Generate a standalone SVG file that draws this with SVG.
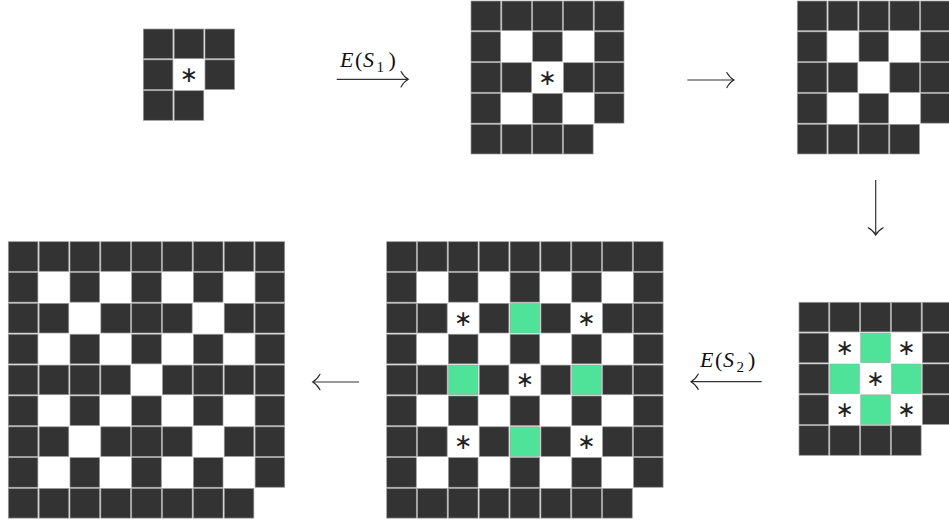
<svg xmlns="http://www.w3.org/2000/svg" width="949" height="523" viewBox="0 0 949 523">
<style>
.d{fill:#333333;stroke:#9a9a9a;stroke-width:0.7}
.g{fill:#4fe39a;stroke:#9a9a9a;stroke-width:0.5}
.s{font-family:"DejaVu Sans",sans-serif;font-size:22px;fill:#222;text-anchor:middle;dominant-baseline:central}
.lbl{font-family:"Liberation Serif","Times New Roman",serif;font-size:22px;fill:#111}
.ln{stroke:#333;stroke-width:1.2;fill:none}
.hd{stroke:#222;stroke-width:1.1;fill:none;stroke-linecap:round}
</style>
<defs>
<rect id="c" width="29.6" height="29.6"/>
<g id="full9"><use href="#c" x="0"/><use href="#c" x="30.85"/><use href="#c" x="61.7"/><use href="#c" x="92.55"/><use href="#c" x="123.4"/><use href="#c" x="154.25"/><use href="#c" x="185.1"/><use href="#c" x="215.95"/><use href="#c" x="246.8"/></g>
<g id="odd9"><use href="#c" x="0"/><use href="#c" x="61.7"/><use href="#c" x="123.4"/><use href="#c" x="185.1"/><use href="#c" x="246.8"/></g>
<g id="last9"><use href="#c" x="0"/><use href="#c" x="30.85"/><use href="#c" x="61.7"/><use href="#c" x="92.55"/><use href="#c" x="123.4"/><use href="#c" x="154.25"/><use href="#c" x="185.1"/><use href="#c" x="215.95"/></g>
<g id="mid9"><use href="#c" x="0"/><use href="#c" x="30.85"/><use href="#c" x="92.55"/><use href="#c" x="154.25"/><use href="#c" x="215.95"/><use href="#c" x="246.8"/></g>
<g id="full5"><use href="#c" x="0"/><use href="#c" x="30.85"/><use href="#c" x="61.7"/><use href="#c" x="92.55"/><use href="#c" x="123.4"/></g>
<g id="odd5"><use href="#c" x="0"/><use href="#c" x="61.7"/><use href="#c" x="123.4"/></g>
<g id="mid5"><use href="#c" x="0"/><use href="#c" x="30.85"/><use href="#c" x="92.55"/><use href="#c" x="123.4"/></g>
<g id="last5"><use href="#c" x="0"/><use href="#c" x="30.85"/><use href="#c" x="61.7"/><use href="#c" x="92.55"/></g>
</defs>

<g id="grid1" transform="translate(143.3,29)">
<g class="d"><use href="#c" x="0" y="0"/><use href="#c" x="30.85" y="0"/><use href="#c" x="61.7" y="0"/><use href="#c" x="0" y="30.85"/><use href="#c" x="61.7" y="30.85"/><use href="#c" x="0" y="61.7"/><use href="#c" x="30.85" y="61.7"/></g>
<text class="s" x="45.65" y="45.65">∗</text>
</g>

<g id="grid2" transform="translate(471,1)">
<g class="d"><use href="#full5" y="0"/><use href="#odd5" y="30.85"/><use href="#mid5" y="61.7"/><use href="#odd5" y="92.55"/><use href="#last5" y="123.4"/></g>
<text class="s" x="76.5" y="76.5">∗</text>
</g>

<g id="grid3" transform="translate(797.3,1)">
<g class="d"><use href="#full5" y="0"/><use href="#odd5" y="30.85"/><use href="#mid5" y="61.7"/><use href="#odd5" y="92.55"/><use href="#last5" y="123.4"/></g>
</g>

<g id="grid4" transform="translate(799,302.3)">
<g class="d"><use href="#full5" y="0"/><use href="#c" x="0" y="30.85"/><use href="#c" x="123.4" y="30.85"/><use href="#c" x="0" y="61.7"/><use href="#c" x="123.4" y="61.7"/><use href="#c" x="0" y="92.55"/><use href="#c" x="123.4" y="92.55"/><use href="#last5" y="123.4"/></g>
<g class="g"><use href="#c" x="61.7" y="30.85"/><use href="#c" x="30.85" y="61.7"/><use href="#c" x="92.55" y="61.7"/><use href="#c" x="61.7" y="92.55"/></g>
<text class="s" x="45.65" y="45.65">∗</text><text class="s" x="107.35" y="45.65">∗</text><text class="s" x="76.5" y="76.5">∗</text><text class="s" x="45.65" y="107.35">∗</text><text class="s" x="107.35" y="107.35">∗</text>
</g>

<g id="grid5" transform="translate(386.7,241.7)">
<g class="d"><use href="#full9" y="0"/><use href="#odd9" y="30.85"/><use href="#mid9" y="61.7"/><use href="#odd9" y="92.55"/><use href="#mid9" y="123.4"/><use href="#odd9" y="154.25"/><use href="#mid9" y="185.1"/><use href="#odd9" y="215.95"/><use href="#last9" y="246.8"/></g>
<g class="g"><use href="#c" x="123.4" y="61.7"/><use href="#c" x="61.7" y="123.4"/><use href="#c" x="185.1" y="123.4"/><use href="#c" x="123.4" y="185.1"/></g>
<text class="s" x="76.5" y="76.5">∗</text><text class="s" x="199.9" y="76.5">∗</text><text class="s" x="138.2" y="138.2">∗</text><text class="s" x="76.5" y="199.9">∗</text><text class="s" x="199.9" y="199.9">∗</text>
</g>

<g id="grid6" transform="translate(8.3,241.7)">
<g class="d"><use href="#full9" y="0"/><use href="#odd9" y="30.85"/><use href="#mid9" y="61.7"/><use href="#c" x="123.4" y="61.7"/><use href="#odd9" y="92.55"/><use href="#mid9" y="123.4"/><use href="#c" x="185.1" y="123.4"/><use href="#c" x="61.7" y="123.4"/><use href="#odd9" y="154.25"/><use href="#mid9" y="185.1"/><use href="#c" x="123.4" y="185.1"/><use href="#odd9" y="215.95"/><use href="#last9" y="246.8"/></g>
</g>

<g id="connectors">
<line class="ln" x1="336.7" y1="79.3" x2="407.5" y2="79.3"/>
<path class="hd" d="M401,71.5 Q404,77 408.3,79.3 Q404,81.6 401,87"/>
<text class="lbl"><tspan x="340" y="66.7" font-style="italic">E</tspan><tspan x="355" y="66.7">(</tspan><tspan x="363" y="66.7" font-style="italic">S</tspan><tspan x="376.5" y="71.5" font-size="15">1</tspan><tspan x="388.5" y="66.7">)</tspan></text>

<line class="ln" x1="687.3" y1="80" x2="733.2" y2="80"/>
<path class="hd" d="M726.8,72.5 Q729.8,77.8 734,80 Q729.8,82.2 726.8,87.7"/>

<line class="ln" x1="875.7" y1="180" x2="875.7" y2="234.2"/>
<path class="hd" d="M868.2,227.8 Q873.5,230.8 875.7,235 Q877.9,230.8 883.2,227.8"/>

<line class="ln" x1="691.8" y1="381.7" x2="761.7" y2="381.7"/>
<path class="hd" d="M698.3,374 Q695.3,379.4 691,381.7 Q695.3,384 698.3,389.4"/>
<text class="lbl"><tspan x="700" y="366.7" font-style="italic">E</tspan><tspan x="715" y="366.7">(</tspan><tspan x="723" y="366.7" font-style="italic">S</tspan><tspan x="736.5" y="371.5" font-size="15">2</tspan><tspan x="748" y="366.7">)</tspan></text>

<line class="ln" x1="313.5" y1="382" x2="359" y2="382"/>
<path class="hd" d="M320,374.3 Q317,379.7 312.7,382 Q317,384.3 320,389.7"/>
</g>
</svg>
